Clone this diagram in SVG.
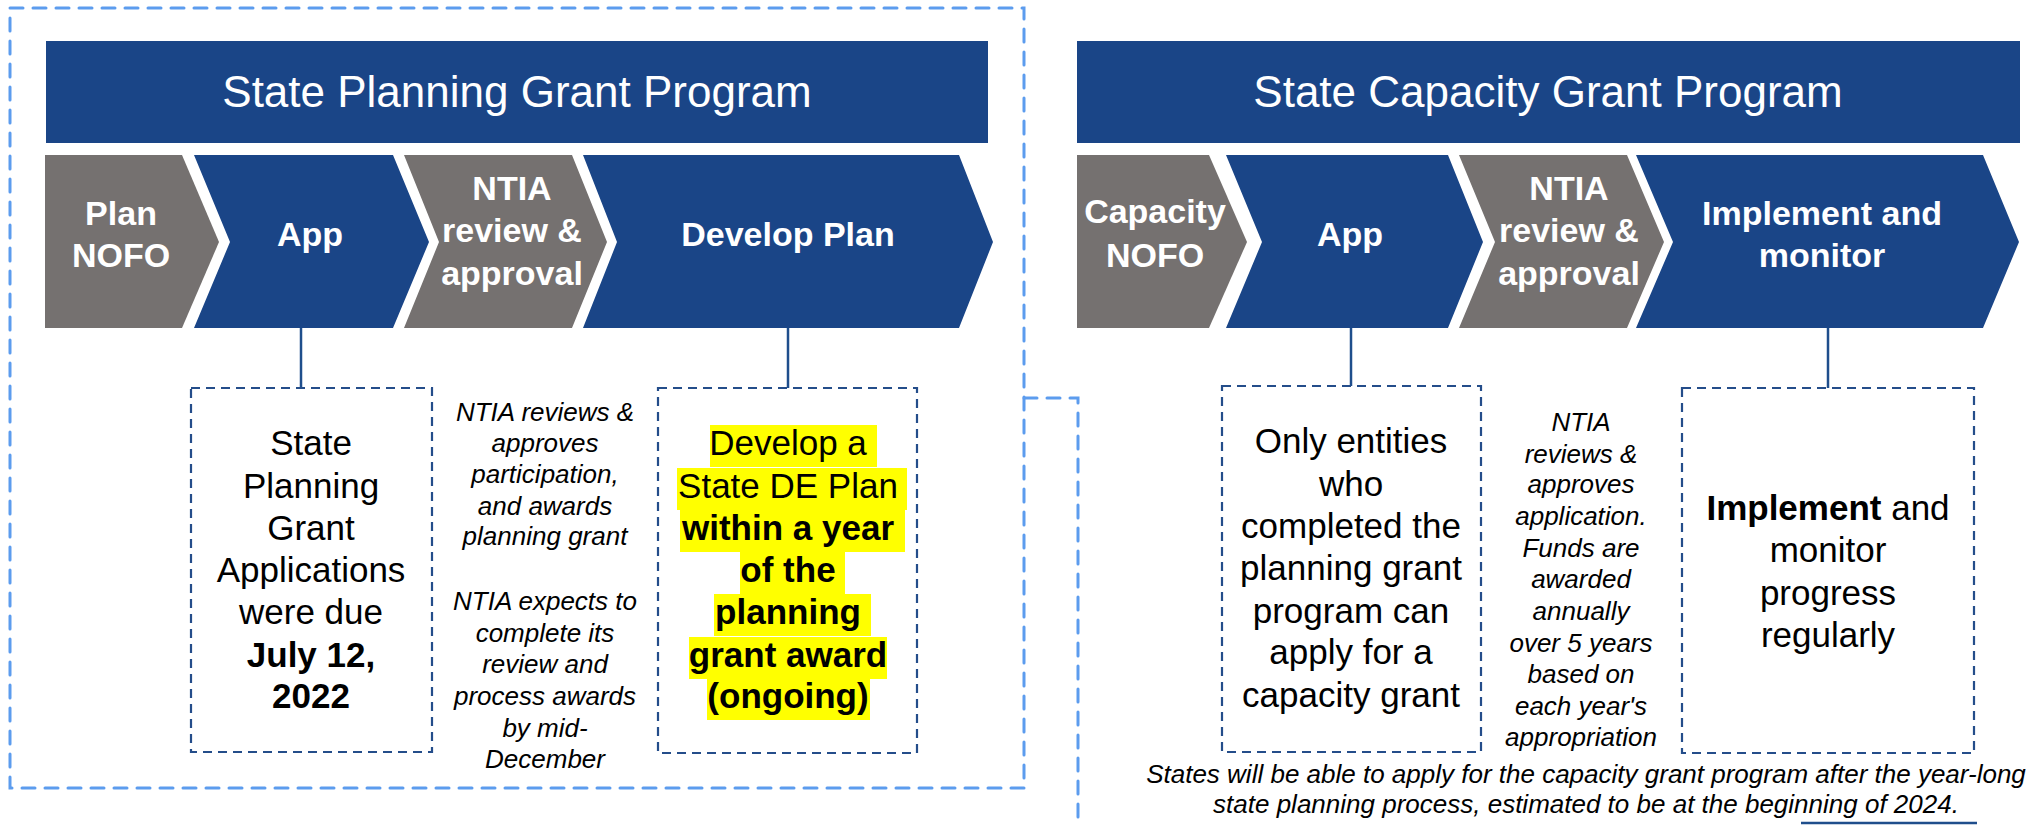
<svg xmlns="http://www.w3.org/2000/svg" width="2044" height="825" viewBox="0 0 2044 825">
<style>
.hdr{fill:#1A4587}
.blue{fill:#1A4587}
.gray{fill:#757170}
.ht{font-family:"Liberation Sans",Arial,sans-serif;font-size:44px;fill:#fff;text-anchor:middle}
.ct{font-family:"Liberation Sans",Arial,sans-serif;font-size:34px;font-weight:bold;fill:#fff;text-anchor:middle}
.bt{font-family:"Liberation Sans",Arial,sans-serif;font-size:35px;fill:#000;text-anchor:middle}
.it{font-family:"Liberation Sans",Arial,sans-serif;font-size:26px;font-style:italic;fill:#000;text-anchor:middle}
.b{font-weight:bold}
.box{fill:#fff;stroke:#244D8A;stroke-width:2.2;stroke-dasharray:9 6}
.outer{fill:none;stroke:#5C9CEE;stroke-width:3;stroke-dasharray:13 10;stroke-linecap:round}
.conn{stroke:#1F4E8C;stroke-width:2.5;fill:none}
.hl{fill:#FFFF00}
</style>
<rect width="2044" height="825" fill="#fff"/>

<g id="outer-boundary">
<rect class="outer" x="10" y="8" width="1014" height="780"/>
<polyline class="outer" points="1024,398 1078,398 1078,825"/>
</g>

<g id="connectors">
<line class="conn" x1="301" y1="328" x2="301" y2="388"/>
<line class="conn" x1="788" y1="328" x2="788" y2="388"/>
<line class="conn" x1="1351" y1="328" x2="1351" y2="386"/>
<line class="conn" x1="1828" y1="328" x2="1828" y2="388"/>
<line class="conn" x1="1801" y1="823" x2="1977" y2="823"/>
</g>

<g id="header-planning">
<rect class="hdr" x="46" y="41" width="942" height="102"/>
<text class="ht" x="517" y="107">State Planning Grant Program</text>
</g>
<g id="header-capacity">
<rect class="hdr" x="1077" y="41" width="943" height="102"/>
<text class="ht" x="1548" y="107">State Capacity Grant Program</text>
</g>

<g id="plan-nofo">
<polygon class="gray" points="45,155 182,155 219,242 182,328 45,328"/>
<text class="ct" x="121" y="225">Plan</text>
<text class="ct" x="121" y="267">NOFO</text>
</g>
<g id="plan-app">
<polygon class="blue" points="194,155 393,155 429,242 393,328 194,328 230,242"/>
<text class="ct" x="310" y="246">App</text>
</g>
<g id="plan-ntia">
<polygon class="gray" points="404,155 572,155 607,242 572,328 404,328 439,242"/>
<text class="ct" x="512" y="200">NTIA</text>
<text class="ct" x="512" y="242">review &amp;</text>
<text class="ct" x="512" y="285">approval</text>
</g>
<g id="plan-develop">
<polygon class="blue" points="583,155 959,155 993,242 959,328 583,328 617,242"/>
<text class="ct" x="788" y="246">Develop Plan</text>
</g>

<g id="cap-nofo">
<polygon class="gray" points="1077,155 1209,155 1247,242 1209,328 1077,328"/>
<text class="ct" x="1155" y="223">Capacity</text>
<text class="ct" x="1155" y="267">NOFO</text>
</g>
<g id="cap-app">
<polygon class="blue" points="1226,155 1448,155 1483,242 1448,328 1226,328 1262,242"/>
<text class="ct" x="1350" y="246">App</text>
</g>
<g id="cap-ntia">
<polygon class="gray" points="1459,155 1627,155 1664,242 1627,328 1459,328 1495,242"/>
<text class="ct" x="1569" y="200">NTIA</text>
<text class="ct" x="1569" y="242">review &amp;</text>
<text class="ct" x="1569" y="285">approval</text>
</g>
<g id="cap-implement">
<polygon class="blue" points="1636,155 1983,155 2019,242 1983,328 1636,328 1673,242"/>
<text class="ct" x="1822" y="225">Implement and</text>
<text class="ct" x="1822" y="267">monitor</text>
</g>

<g id="box-applications">
<rect class="box" x="191" y="388" width="241" height="364"/>
<text class="bt" x="311" y="455">State</text>
<text class="bt" x="311" y="498">Planning</text>
<text class="bt" x="311" y="540">Grant</text>
<text class="bt" x="311" y="582">Applications</text>
<text class="bt" x="311" y="624">were due</text>
<text class="bt b" x="311" y="667">July 12,</text>
<text class="bt b" x="311" y="708">2022</text>
</g>

<g id="note-ntia-planning">
<text class="it" x="545" y="421">NTIA reviews &amp;</text>
<text class="it" x="545" y="452">approves</text>
<text class="it" x="545" y="483">participation,</text>
<text class="it" x="545" y="515">and awards</text>
<text class="it" x="545" y="545">planning grant</text>
<text class="it" x="545" y="610">NTIA expects to</text>
<text class="it" x="545" y="642">complete its</text>
<text class="it" x="545" y="673">review and</text>
<text class="it" x="545" y="705">process awards</text>
<text class="it" x="545" y="737">by mid-</text>
<text class="it" x="545" y="768">December</text>
</g>

<g id="box-develop">
<rect class="box" x="658" y="388" width="259" height="365"/>
<rect class="hl" x="710" y="425" width="167" height="42"/>
<rect class="hl" x="677" y="468" width="230" height="42"/>
<rect class="hl" x="680" y="510" width="225" height="42"/>
<rect class="hl" x="740" y="552" width="105" height="42"/>
<rect class="hl" x="714" y="594" width="157" height="42"/>
<rect class="hl" x="689" y="637" width="198" height="42"/>
<rect class="hl" x="707" y="678" width="163" height="42"/>
<text class="bt" x="788" y="455">Develop a</text>
<text class="bt" x="788" y="498">State DE Plan</text>
<text class="bt b" x="788" y="540">within a year</text>
<text class="bt b" x="788" y="582">of the</text>
<text class="bt b" x="788" y="624">planning</text>
<text class="bt b" x="788" y="667">grant award</text>
<text class="bt b" x="788" y="708">(ongoing)</text>
</g>

<g id="box-entities">
<rect class="box" x="1222" y="386" width="259" height="366"/>
<text class="bt" x="1351" y="453">Only entities</text>
<text class="bt" x="1351" y="496">who</text>
<text class="bt" x="1351" y="538">completed the</text>
<text class="bt" x="1351" y="580">planning grant</text>
<text class="bt" x="1351" y="623">program can</text>
<text class="bt" x="1351" y="664">apply for a</text>
<text class="bt" x="1351" y="707">capacity grant</text>
</g>

<g id="note-ntia-capacity">
<text class="it" x="1581" y="431">NTIA</text>
<text class="it" x="1581" y="463">reviews &amp;</text>
<text class="it" x="1581" y="493">approves</text>
<text class="it" x="1581" y="525">application.</text>
<text class="it" x="1581" y="557">Funds are</text>
<text class="it" x="1581" y="588">awarded</text>
<text class="it" x="1581" y="620">annually</text>
<text class="it" x="1581" y="652">over 5 years</text>
<text class="it" x="1581" y="683">based on</text>
<text class="it" x="1581" y="715">each year's</text>
<text class="it" x="1581" y="746">appropriation</text>
</g>

<g id="box-implement">
<rect class="box" x="1682" y="388" width="292" height="365"/>
<text class="bt" x="1828" y="520"><tspan font-weight="bold">Implement</tspan> and</text>
<text class="bt" x="1828" y="562">monitor</text>
<text class="bt" x="1828" y="605">progress</text>
<text class="bt" x="1828" y="647">regularly</text>
</g>

<g id="footnote">
<text class="it" x="1586" y="783">States will be able to apply for the capacity grant program after the year-long</text>
<text class="it" x="1586" y="813">state planning process, estimated to be at the beginning of 2024.</text>
</g>
</svg>
